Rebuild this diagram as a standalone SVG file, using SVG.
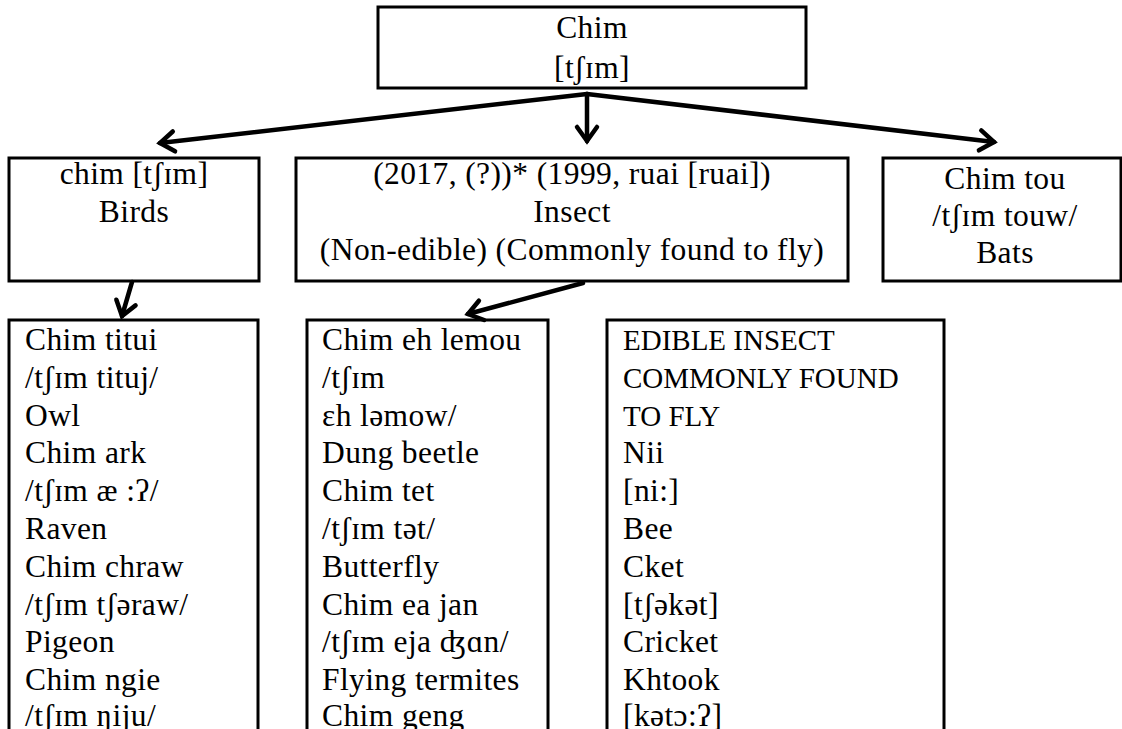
<svg xmlns="http://www.w3.org/2000/svg" width="1122" height="729" viewBox="0 0 1122 729">
<style>
.box{fill:#fff;stroke:#000;stroke-width:3}
.t{font-family:"Liberation Serif","DejaVu Serif",serif;font-size:31.5px;letter-spacing:0.4px;fill:#000}
.cap{font-size:29px;letter-spacing:0}
.c{text-anchor:middle}
.conn line{stroke:#000;stroke-width:4.5;stroke-linecap:round}
</style>
<defs>
<marker id="ah" markerUnits="userSpaceOnUse" markerWidth="24" markerHeight="24" refX="18" refY="12" orient="auto" overflow="visible">
<path d="M4,2 L18,12 L4,22" fill="none" stroke="#000" stroke-width="4.5" stroke-linecap="round" stroke-linejoin="miter"/>
</marker>
</defs>
<rect width="1122" height="729" fill="#fff"/>
<g id="root">
<rect class="box" x="378" y="7" width="428" height="81"/>
<text class="t c" x="592" y="38">Chim</text>
<text class="t c" x="592" y="78">[tʃɪm]</text>
</g>
<g id="birds">
<rect class="box" x="9" y="158" width="250" height="123"/>
<text class="t c" x="134" y="184">chim [tʃɪm]</text>
<text class="t c" x="134" y="222">Birds</text>
</g>
<g id="insect">
<rect class="box" x="296" y="158" width="552" height="123"/>
<text class="t c" x="572" y="184">(2017, (?))* (1999, ruai [ruai])</text>
<text class="t c" x="572" y="222">Insect</text>
<text class="t c" x="572" y="260">(Non-edible) (Commonly found to fly)</text>
</g>
<g id="bats">
<rect class="box" x="883" y="158" width="238" height="123"/>
<text class="t c" x="1005" y="189">Chim tou</text>
<text class="t c" x="1005" y="226">/tʃɪm touw/</text>
<text class="t c" x="1005" y="263">Bats</text>
</g>
<g id="bird-list">
<rect class="box" x="9" y="320" width="249" height="420"/>
<text class="t" x="25" y="350">Chim titui</text>
<text class="t" x="25" y="388">/tʃɪm tituj/</text>
<text class="t" x="25" y="426">Owl</text>
<text class="t" x="25" y="463">Chim ark</text>
<text class="t" x="25" y="501">/tʃɪm æ :ʔ/</text>
<text class="t" x="25" y="539">Raven</text>
<text class="t" x="25" y="577">Chim chraw</text>
<text class="t" x="25" y="615">/tʃɪm tʃəraw/</text>
<text class="t" x="25" y="652">Pigeon</text>
<text class="t" x="25" y="690">Chim ngie</text>
<text class="t" x="25" y="726">/tʃɪm ŋiju/</text>
</g>
<g id="insect-list">
<rect class="box" x="307" y="320" width="241" height="420"/>
<text class="t" x="322" y="350">Chim eh lemou</text>
<text class="t" x="322" y="388">/tʃɪm</text>
<text class="t" x="322" y="426">ɛh ləmow/</text>
<text class="t" x="322" y="463">Dung beetle</text>
<text class="t" x="322" y="501">Chim tet</text>
<text class="t" x="322" y="539">/tʃɪm tət/</text>
<text class="t" x="322" y="577">Butterfly</text>
<text class="t" x="322" y="615">Chim ea jan</text>
<text class="t" x="322" y="652">/tʃɪm eja ʤɑn/</text>
<text class="t" x="322" y="690">Flying termites</text>
<text class="t" x="322" y="726">Chim geng</text>
</g>
<g id="edible-list">
<rect class="box" x="607" y="320" width="337" height="420"/>
<text class="t cap" x="623" y="350">EDIBLE INSECT</text>
<text class="t cap" x="623" y="388">COMMONLY FOUND</text>
<text class="t cap" x="623" y="426">TO FLY</text>
<text class="t" x="623" y="463">Nii</text>
<text class="t" x="623" y="501">[ni:]</text>
<text class="t" x="623" y="539">Bee</text>
<text class="t" x="623" y="577">Cket</text>
<text class="t" x="623" y="615">[tʃəkət]</text>
<text class="t" x="623" y="652">Cricket</text>
<text class="t" x="623" y="690">Khtook</text>
<text class="t" x="623" y="726">[kətɔ:ʔ]</text>
</g>
<g id="connectors" class="conn">
<line x1="587" y1="94" x2="160" y2="143" marker-end="url(#ah)"/>
<line x1="587" y1="94" x2="587" y2="141" marker-end="url(#ah)"/>
<line x1="587" y1="94" x2="994" y2="142" marker-end="url(#ah)"/>
<line x1="132" y1="282" x2="122" y2="316" marker-end="url(#ah)"/>
<line x1="583" y1="283" x2="468" y2="314" marker-end="url(#ah)"/>
</g>
</svg>
